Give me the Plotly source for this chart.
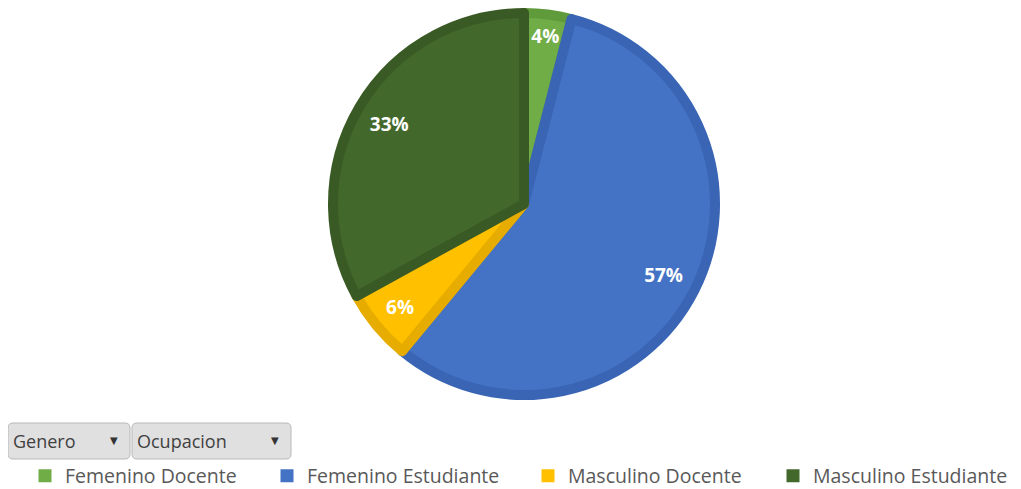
import plotly.graph_objects as go

labels = ["Femenino Docente", "Femenino Estudiante", "Masculino Docente", "Masculino Estudiante"]
values = [4, 57, 6, 33]
fill_colors = ["#70AD47", "#4472C4", "#FFC000", "#43682B"]
edge_colors = ["#5F9A3B", "#3A64B4", "#E6AC00", "#3A5A25"]
buttons = ["Genero", "Ocupacion"]

W, H = 1021, 489
OFF = 8  # page body margin

def px(x):
    return (x - OFF) / W

def py(y):
    return 1 - (y - OFF) / H

CX, CY, R = 524, 204, 191
dom = dict(x=[px(CX - R), px(CX + R)], y=[py(CY + R), py(CY - R)])

fig = go.Figure()
fig.add_trace(go.Pie(
    labels=labels, values=values, sort=False, direction="clockwise", rotation=0,
    marker=dict(colors=fill_colors, line=dict(color=edge_colors, width=10)),
    textinfo="none", domain=dom, hoverinfo="label+percent", showlegend=False,
))
# transparent ring used to place the percentage labels further out
fig.add_trace(go.Pie(
    labels=labels, values=values, sort=False, direction="clockwise", rotation=0,
    hole=0.64, showlegend=False, hoverinfo="skip",
    marker=dict(colors=["rgba(0,0,0,0)"] * len(values), line=dict(width=0)),
    textinfo="percent", textposition="inside", insidetextorientation="horizontal",
    texttemplate="%{percent:.0%}",
    textfont=dict(family="Open Sans", size=19, color="white", weight="bold"),
    domain=dom,
))

# legend entries, one small legend per category placed like the original
legend_x = [25, 267, 528, 773]
legend_layouts = {}
for i, (lab, col) in enumerate(zip(labels, fill_colors)):
    key = "legend" if i == 0 else f"legend{i+1}"
    fig.add_trace(go.Scatter(
        x=[None], y=[None], mode="markers", name=lab, legend=key,
        marker=dict(symbol="square", size=13, color=col, line=dict(width=0)),
        showlegend=True, hoverinfo="skip",
    ))
    legend_layouts[key] = dict(
        orientation="h", x=px(legend_x[i]), y=py(476), xanchor="left", yanchor="middle",
        font=dict(family="Open Sans", size=19.5, color="#595959"),
        bgcolor="rgba(0,0,0,0)",
    )

shapes = []
annotations = []
btn_boxes = [(8, 130), (132, 291)]
for name, (x0, x1) in zip(buttons, btn_boxes):
    y0, y1 = 423, 459
    r = 5
    path = (f"M {px(x0+r)},{py(y0)} L {px(x1-r)},{py(y0)} Q {px(x1)},{py(y0)} {px(x1)},{py(y0+r)} "
            f"L {px(x1)},{py(y1-r)} Q {px(x1)},{py(y1)} {px(x1-r)},{py(y1)} "
            f"L {px(x0+r)},{py(y1)} Q {px(x0)},{py(y1)} {px(x0)},{py(y1-r)} "
            f"L {px(x0)},{py(y0+r)} Q {px(x0)},{py(y0)} {px(x0+r)},{py(y0)} Z")
    shapes.append(dict(type="path", xref="paper", yref="paper", path=path,
                       fillcolor="#E0E0E0", line=dict(color="#B8B8B8", width=1), layer="above"))
    annotations.append(dict(text=name, x=px(x0 + 3), y=py((y0 + y1) / 2), xref="paper", yref="paper",
                            xanchor="left", yanchor="middle", showarrow=False,
                            font=dict(family="Open Sans", size=18, color="#404040")))
    annotations.append(dict(text="▼", x=px(x1 - 16), y=py((y0 + y1) / 2 - 1), xref="paper", yref="paper",
                            xanchor="center", yanchor="middle", showarrow=False,
                            font=dict(family="DejaVu Sans", size=10, color="#333333")))

fig.update_layout(
    width=W, height=H,
    margin=dict(l=0, r=0, t=0, b=0, autoexpand=False),
    paper_bgcolor="white", plot_bgcolor="white",
    showlegend=True,
    xaxis=dict(visible=False), yaxis=dict(visible=False),
    shapes=shapes,
    annotations=annotations,
    **legend_layouts,
)

fig.write_html("out.html")
